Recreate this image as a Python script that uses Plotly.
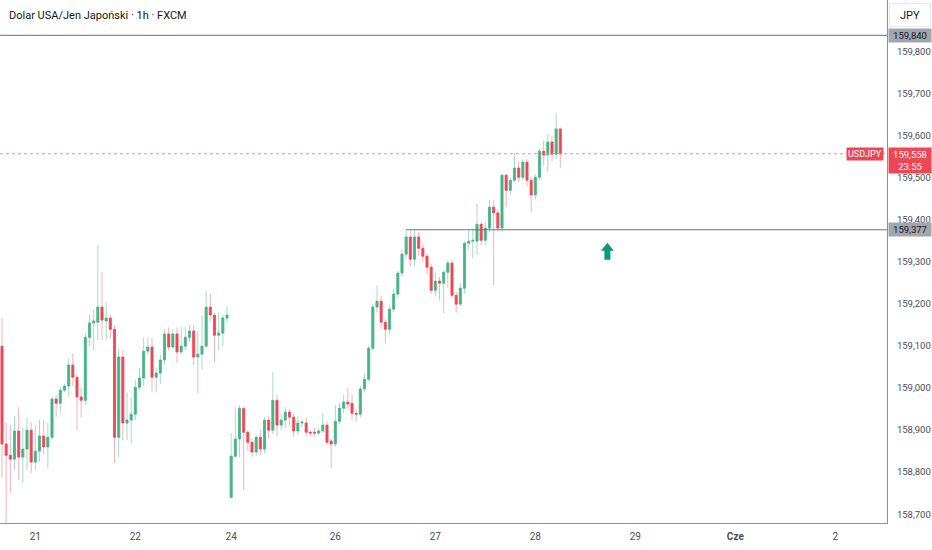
import plotly.graph_objects as go

# hourly USD/JPY candles (bar index 0..134)
opens = [159.100, 158.867, 158.840, 158.831, 158.898, 158.836, 158.855, 158.900, 158.824, 158.850,
         158.886, 158.860, 158.883, 158.974, 158.964, 158.995, 159.005, 159.055, 159.026, 158.979,
         158.971, 159.121, 159.155, 159.157, 159.193, 159.160, 159.167, 159.140, 158.883, 159.074,
         158.917, 158.924, 158.938, 159.002, 159.024, 159.088, 159.098, 159.026, 159.036, 159.067,
         159.129, 159.098, 159.129, 159.086, 159.100, 159.121, 159.136, 159.074, 159.081, 159.100,
         159.193, 159.174, 159.126, 159.131, 159.167, 158.740, 158.838, 158.879, 158.952, 158.895,
         158.871, 158.848, 158.883, 158.855, 158.924, 158.900, 158.971, 158.912, 158.924, 158.943,
         158.931, 158.898, 158.917, 158.917, 158.895, 158.895, 158.893, 158.898, 158.912, 158.874,
         158.867, 158.921, 158.952, 158.967, 158.964, 158.940, 158.938, 158.998, 159.021, 159.095,
         159.193, 159.207, 159.157, 159.140, 159.188, 159.224, 159.274, 159.319, 159.360, 159.307,
         159.360, 159.333, 159.314, 159.288, 159.233, 159.255, 159.250, 159.276, 159.298, 159.221,
         159.200, 159.238, 159.345, 159.350, 159.350, 159.390, 159.352, 159.381, 159.431, 159.417,
         159.381, 159.507, 159.471, 159.495, 159.524, 159.502, 159.538, 159.495, 159.460, 159.502,
         159.564, 159.555, 159.586, 159.557, 159.617]
highs = [159.167, 158.919, 158.912, 158.933, 158.955, 158.905, 158.929, 158.919, 158.912, 158.924,
         158.924, 158.917, 158.980, 158.983, 159.002, 159.010, 159.070, 159.083, 159.030, 159.000,
         159.130, 159.175, 159.186, 159.340, 159.276, 159.205, 159.174, 159.150, 159.095, 159.090,
         158.990, 158.979, 159.019, 159.048, 159.120, 159.120, 159.120, 159.050, 159.080, 159.140,
         159.145, 159.140, 159.145, 159.145, 159.145, 159.150, 159.150, 159.136, 159.174, 159.231,
         159.224, 159.180, 159.180, 159.175, 159.195, 158.893, 158.955, 158.960, 158.955, 158.900,
         158.880, 158.890, 158.900, 158.930, 158.935, 159.038, 158.985, 158.940, 158.955, 158.950,
         158.940, 158.935, 158.925, 158.930, 158.900, 158.905, 158.905, 158.940, 158.920, 158.880,
         158.960, 158.965, 158.985, 159.000, 158.985, 158.950, 159.005, 159.035, 159.100, 159.200,
         159.245, 159.220, 159.165, 159.195, 159.235, 159.280, 159.330, 159.377, 159.375, 159.377,
         159.372, 159.345, 159.320, 159.295, 159.275, 159.265, 159.280, 159.305, 159.305, 159.230,
         159.250, 159.350, 159.375, 159.380, 159.440, 159.395, 159.395, 159.448, 159.448, 159.425,
         159.510, 159.510, 159.500, 159.560, 159.540, 159.545, 159.545, 159.500, 159.510, 159.570,
         159.590, 159.605, 159.600, 159.652, 159.620]
lows = [158.788, 158.674, 158.750, 158.805, 158.781, 158.774, 158.805, 158.798, 158.805, 158.824,
        158.843, 158.810, 158.876, 158.931, 158.940, 158.990, 158.980, 159.005, 158.900, 158.930,
        158.960, 159.100, 159.090, 159.114, 159.114, 159.114, 159.119, 158.821, 158.836, 158.876,
        158.876, 158.869, 158.924, 158.995, 159.005, 159.080, 158.990, 158.990, 159.010, 159.055,
        159.090, 159.095, 159.060, 159.080, 159.090, 159.110, 159.055, 158.988, 159.043, 159.095,
        159.160, 159.062, 159.090, 159.100, 159.155, 158.740, 158.833, 158.836, 158.757, 158.850,
        158.835, 158.838, 158.840, 158.845, 158.880, 158.890, 158.885, 158.900, 158.905, 158.910,
        158.885, 158.890, 158.905, 158.885, 158.885, 158.885, 158.888, 158.893, 158.865, 158.810,
        158.860, 158.915, 158.940, 158.950, 158.925, 158.920, 158.930, 158.990, 159.015, 159.090,
        159.180, 159.140, 159.107, 159.130, 159.180, 159.215, 159.265, 159.310, 159.290, 159.290,
        159.315, 159.300, 159.270, 159.225, 159.220, 159.210, 159.179, 159.240, 159.215, 159.180,
        159.195, 159.225, 159.330, 159.310, 159.317, 159.340, 159.340, 159.370, 159.245, 159.372,
        159.370, 159.430, 159.460, 159.490, 159.490, 159.495, 159.480, 159.419, 159.450, 159.495,
        159.530, 159.515, 159.540, 159.545, 159.524]
closes = [158.867, 158.840, 158.831, 158.898, 158.836, 158.855, 158.900, 158.824, 158.850, 158.886,
          158.860, 158.883, 158.974, 158.964, 158.995, 159.005, 159.055, 159.026, 158.979, 158.971,
          159.121, 159.155, 159.160, 159.193, 159.162, 159.167, 159.140, 158.883, 159.074, 158.917,
          158.924, 158.938, 159.002, 159.024, 159.088, 159.098, 159.026, 159.036, 159.067, 159.129,
          159.098, 159.129, 159.086, 159.100, 159.121, 159.136, 159.074, 159.081, 159.100, 159.193,
          159.174, 159.126, 159.131, 159.167, 159.174, 158.838, 158.879, 158.952, 158.895, 158.871,
          158.848, 158.883, 158.855, 158.924, 158.900, 158.971, 158.912, 158.924, 158.943, 158.931,
          158.898, 158.917, 158.919, 158.895, 158.893, 158.893, 158.898, 158.912, 158.871, 158.867,
          158.921, 158.952, 158.967, 158.962, 158.940, 158.938, 158.998, 159.021, 159.095, 159.193,
          159.207, 159.157, 159.140, 159.188, 159.224, 159.274, 159.319, 159.360, 159.307, 159.360,
          159.333, 159.314, 159.288, 159.233, 159.255, 159.250, 159.276, 159.298, 159.221, 159.200,
          159.238, 159.345, 159.350, 159.352, 159.390, 159.352, 159.381, 159.431, 159.417, 159.381,
          159.507, 159.471, 159.495, 159.524, 159.502, 159.538, 159.495, 159.460, 159.502, 159.564,
          159.555, 159.586, 159.557, 159.617, 159.558]

bars = list(range(len(opens)))

day_ticks = [8, 32, 55, 80, 104, 128, 152, 176, 200]
day_labels = ["21", "22", "24", "26", "27", "28", "29", "<b>Cze</b>", "2"]

price_ticks = [158.7, 158.8, 158.9, 159.0, 159.1, 159.2, 159.3, 159.4, 159.5, 159.6, 159.7, 159.8]
price_labels = ["158,700", "158,800", "158,900", "159,000", "159,100", "159,200",
                "159,300", "159,400", "159,500", "159,600", "159,700", "159,800"]

top_level = 159.840
support_level = 159.377
support_start = 97
last_price = 159.558
arrow_bar = 145.3
arrow_price = 159.325

UP = "#45b388"
DOWN = "#ee4655"
FONT = "Roboto"

fig = go.Figure()

# wicks (pale) underneath
fig.add_trace(go.Candlestick(
    x=bars, open=opens, high=highs, low=lows, close=closes,
    increasing=dict(line=dict(color="#a9d9c6", width=1), fillcolor="rgba(0,0,0,0)"),
    decreasing=dict(line=dict(color="#f6b1b7", width=1), fillcolor="rgba(0,0,0,0)"),
    whiskerwidth=0, hoverinfo="skip", showlegend=False,
))
# bodies
body_hi = [max(o, c) for o, c in zip(opens, closes)]
body_lo = [min(o, c) for o, c in zip(opens, closes)]
fig.add_trace(go.Candlestick(
    x=bars, open=opens, high=body_hi, low=body_lo, close=closes,
    increasing=dict(line=dict(color=UP, width=0.6), fillcolor=UP),
    decreasing=dict(line=dict(color=DOWN, width=0.6), fillcolor=DOWN),
    whiskerwidth=0, showlegend=False, name="USDJPY",
))

x_max = 212.4
fig.add_hline(y=top_level, line=dict(color="#6f7178", width=1))
fig.add_shape(type="line", x0=support_start, x1=x_max, y0=support_level, y1=support_level,
              line=dict(color="#6f7178", width=1))
fig.add_hline(y=last_price, line=dict(color="#f08a93", width=1, dash="dot"))

# green arrow
fig.add_shape(type="path", xref="x", yref="y", xsizemode="pixel", ysizemode="pixel",
              xanchor=arrow_bar, yanchor=arrow_price,
              path="M 0 9 L -6.5 1 L -3 1 L -3 -8 L 3 -8 L 3 1 L 6.5 1 Z",
              fillcolor="#0a9a7a", line=dict(width=0))

# axis price boxes
def axis_box(y, text, bg, color, yanchor="middle", yshift=0):
    fig.add_annotation(x=1, xref="paper", y=y, yref="y", text=text, showarrow=False,
                       xanchor="left", yanchor=yanchor, xshift=1, yshift=yshift, align="center",
                       bgcolor=bg, borderpad=1, width=40,
                       font=dict(family=FONT, size=9.5, color=color))

axis_box(top_level, "159,840", "#a3a6ad", "#131722")
axis_box(support_level, "159,377", "#a3a6ad", "#131722")
axis_box(last_price, "159,558<br>23:55", DOWN, "white", yanchor="top", yshift=7)
fig.add_annotation(x=1, xref="paper", y=last_price, yref="y", text="USDJPY", showarrow=False,
                   xanchor="right", yanchor="middle", xshift=-3, bgcolor=DOWN, borderpad=1,
                   font=dict(family=FONT, size=9, color="white"))
fig.add_annotation(x=1, xref="paper", y=1, yref="paper", text="JPY", showarrow=False,
                   xanchor="left", yanchor="top", xshift=2, yshift=-3, width=38, height=20,
                   bordercolor="#e6e7ea", borderwidth=1, bgcolor="white",
                   font=dict(family=FONT, size=11, color="#131722"))
fig.add_annotation(x=0, xref="paper", y=1, yref="paper", text="Dolar USA/Jen Japoński · 1h · FXCM",
                   showarrow=False, xanchor="left", yanchor="top", xshift=7, yshift=-7,
                   font=dict(family=FONT, size=11, color="#131722"))

fig.update_layout(
    width=932, height=550,
    margin=dict(l=0, r=45, t=0, b=27),
    paper_bgcolor="white", plot_bgcolor="white",
    showlegend=False,
    font=dict(family=FONT, size=11, color="#4a4d55"),
    xaxis=dict(range=[-0.48, x_max], rangeslider=dict(visible=False), showgrid=False,
               zeroline=False, tickmode="array", tickvals=day_ticks, ticktext=day_labels,
               ticks="", showline=True, linecolor="#8c8f96", linewidth=1, automargin=False,
               tickfont=dict(size=10, color="#4a4d55"), ticklabelstandoff=4),
    yaxis=dict(range=[158.679, 159.924], side="right", showgrid=False, zeroline=False,
               tickmode="array", tickvals=price_ticks, ticktext=price_labels,
               ticks="", showline=True, linecolor="#8c8f96", linewidth=1, automargin=False,
               tickfont=dict(size=9.5, color="#4a4d55"), ticklabelstandoff=7),
)

# the page's default body margin would shift the figure; drop it
fig.write_html("out.html", config={"displayModeBar": False},
               post_script="document.body.style.margin='0';")
